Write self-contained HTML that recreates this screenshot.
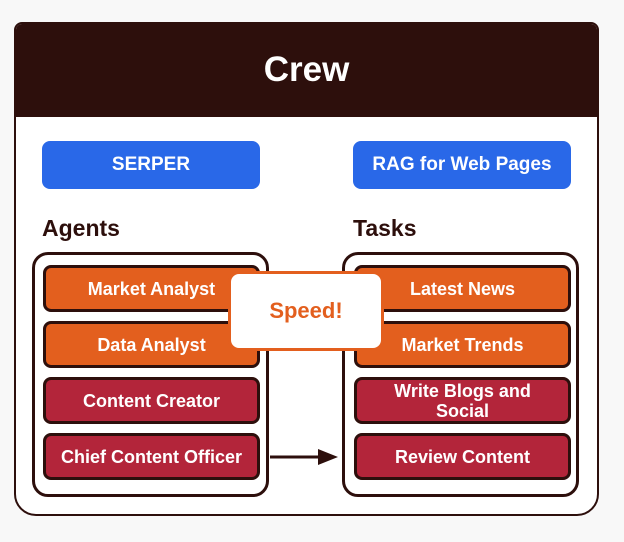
<!DOCTYPE html>
<html><head><style>
body{margin:0;width:624px;height:542px;background:#f8f8f8;position:relative;overflow:hidden;font-family:"Liberation Sans",sans-serif;font-weight:bold}
div{position:absolute;box-sizing:border-box}
.outer{left:14px;top:22px;width:585px;height:494px;background:#fff;border:2px solid #2d0f0c;border-radius:8px 8px 22px 22px;overflow:hidden}
.hdr{left:0;top:0;width:100%;height:93px;background:#2d0f0c;color:#fff;font-size:35px;text-align:center;line-height:92px}
.blue{background:#2968e8;color:#fff;border-radius:8px;font-size:19px;text-align:center;line-height:48px;height:48px;width:218px;top:141px}
.lbl{font-size:23px;color:#2d0f0c;top:215px}
.cont{border:3px solid #2d0f0c;border-radius:16px;background:#fff;top:252px;height:245px;width:237px}
.b{width:217px;height:47px;border:3px solid #2d0f0c;border-radius:8px;color:#fff;font-size:18px;text-align:center;display:flex;align-items:center;justify-content:center;line-height:20px}
.o{background:#e35f1e}.r{background:#b3253a}
</style></head><body>
<div class="outer"><div class="hdr">Crew</div></div>
<div class="blue" style="left:42px">SERPER</div>
<div class="blue" style="left:353px">RAG for Web Pages</div>
<div class="lbl" style="left:42px">Agents</div>
<div class="lbl" style="left:353px">Tasks</div>
<div class="cont" style="left:32px"></div>
<div class="cont" style="left:342px"></div>
<div class="b o" style="left:43px;top:265px">Market Analyst</div>
<div class="b o" style="left:43px;top:321px">Data Analyst</div>
<div class="b r" style="left:43px;top:377px">Content Creator</div>
<div class="b r" style="left:43px;top:433px">Chief Content Officer</div>
<div class="b o" style="left:354px;top:265px">Latest News</div>
<div class="b o" style="left:354px;top:321px">Market Trends</div>
<div class="b r" style="left:354px;top:377px">Write Blogs and<br>Social</div>
<div class="b r" style="left:354px;top:433px">Review Content</div>
<div style="left:228px;top:271px;width:156px;height:80px;background:#fff;border:3px solid #e35f1e;border-radius:11px;color:#e35f1e;font-size:22px;text-align:center;line-height:74px">Speed!</div>
<svg style="position:absolute;left:0;top:0" width="624" height="542"><line x1="270" y1="457" x2="322" y2="457" stroke="#2d0f0c" stroke-width="3"/><polygon points="318,449 338,457 318,465" fill="#2d0f0c"/></svg>
</body></html>
